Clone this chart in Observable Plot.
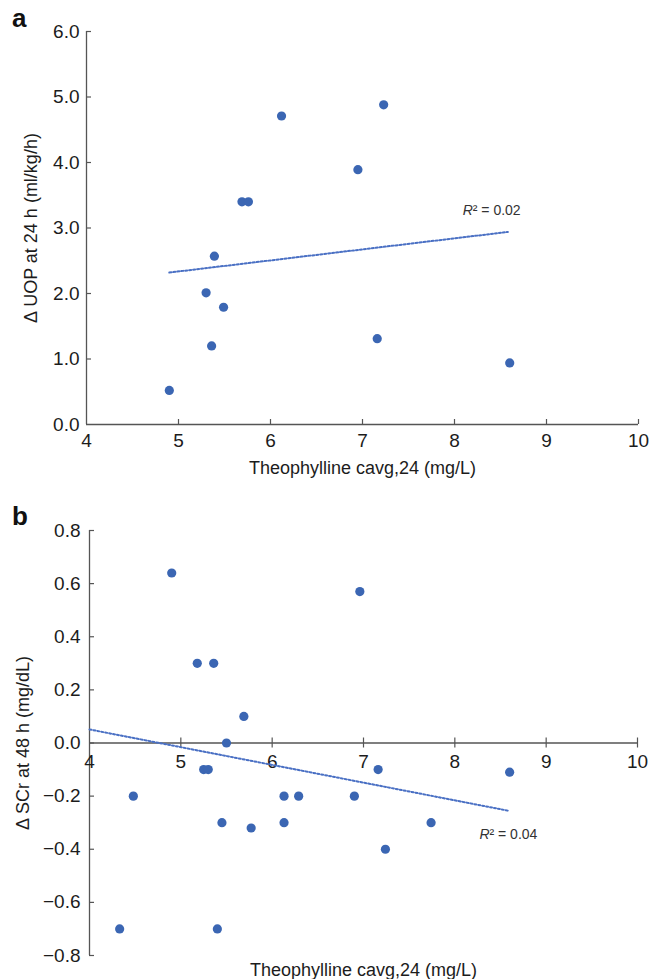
<!DOCTYPE html>
<html>
<head>
<meta charset="utf-8">
<script src="https://cdn.jsdelivr.net/npm/d3@7"></script>
<script src="https://cdn.jsdelivr.net/npm/@observablehq/plot@0.6"></script>
<style>
  html, body { margin: 0; padding: 0; background: #fff; }
  #wrap { position: relative; width: 650px; height: 979px; overflow: hidden; font-family: "Liberation Sans", Arial, sans-serif; }
  .panel { position: absolute; left: 0; }
  .letter { position: absolute; font-weight: bold; font-size: 26px; color: #111; font-family: "Liberation Sans", Arial, sans-serif; line-height: 1; }
</style>
</head>
<body>
<div id="wrap">
  <div class="letter" style="left:12px; top:5px;">a</div>
  <div class="letter" style="left:12px; top:503px;">b</div>
  <div id="pa" class="panel" style="top:0px;"></div>
  <div id="pb" class="panel" style="top:480px;"></div>
</div>
<script>
// ---------- data ----------
const xTicks = [4, 5, 6, 7, 8, 9, 10];
const yTicksA = [0, 1, 2, 3, 4, 5, 6];
const yTicksB = [-0.8, -0.6, -0.4, -0.2, 0, 0.2, 0.4, 0.6, 0.8];

// Panel a: theophylline cavg,24 vs Δ UOP at 24 h
const concA = [4.90, 5.30, 5.39, 5.36, 5.49, 5.69, 5.76, 6.12, 6.95, 7.23, 7.16, 8.60];
const uopA  = [0.52, 2.01, 2.57, 1.20, 1.79, 3.40, 3.40, 4.71, 3.89, 4.88, 1.31, 0.94];

// Panel b: theophylline cavg,24 vs Δ SCr at 48 h
const concB = [4.90, 6.96, 5.18, 5.36, 5.69, 5.50, 5.25, 5.30, 7.16, 8.60, 4.48,
               6.13, 6.29, 6.90, 5.45, 5.77, 6.13, 7.74, 7.24, 4.33, 5.40];
const scrB  = [0.64, 0.57, 0.30, 0.30, 0.10, 0.00, -0.10, -0.10, -0.10, -0.11, -0.20,
               -0.20, -0.20, -0.20, -0.30, -0.32, -0.30, -0.30, -0.40, -0.70, -0.70];

// Trend lines as drawn in the figure
const trendAx = [4.90, 8.58];
const trendAy = [2.32, 2.94];
const trendBx = [4.00, 8.60];
const trendBy = [0.051, -0.256];

const r2A = "0.02";
const r2B = "0.04";

const xTitle = "Theophylline cavg,24 (mg/L)";
const yTitleA = "\u0394 UOP at 24 h (ml/kg/h)";
const yTitleB = "\u0394 SCr at 48 h (mg/dL)";

// ---------- build ----------
const ptsA = concA.map((x, i) => ({x, y: uopA[i]}));
const ptsB = concB.map((x, i) => ({x, y: scrB[i]}));
const trA = trendAx.map((x, i) => ({x, y: trendAy[i]}));
const trB = trendBx.map((x, i) => ({x, y: trendBy[i]}));

const font = '"Liberation Sans", Arial, sans-serif';
const axisColor = "#555";
const textColor = "#1c1c1c";
const dotColor = "#3b66b3";
const lineColor = "#4a70c4";
const tickFs = 19;
const f1 = d3.format(".1f");

const chartA = Plot.plot({
  width: 650, height: 480,
  marginLeft: 86, marginRight: 12, marginTop: 31, marginBottom: 56,
  x: {domain: [4, 10], axis: null},
  y: {domain: [0, 6], axis: null},
  style: {fontFamily: font, fontSize: "19px", color: textColor, background: "transparent", overflow: "visible"},
  marks: [
    Plot.ruleX([4], {stroke: axisColor, strokeWidth: 1.3}),
    Plot.ruleY([0], {stroke: axisColor, strokeWidth: 1.3}),
    Plot.ruleX(xTicks.filter(d => d > 4), {x: d => d, y1: 0, y2: 0, insetTop: -5, stroke: axisColor, strokeWidth: 1.2}),
    Plot.ruleY(yTicksA.filter(d => d > 0), {y: d => d, x1: 4, x2: 4, insetRight: -5, stroke: axisColor, strokeWidth: 1.2}),
    Plot.text(xTicks, {x: d => d, y: 0, text: d => String(d), dy: 16, fill: textColor, fontSize: tickFs}),
    Plot.text(yTicksA, {x: 4, y: d => d, text: d => f1(d), dx: -7, textAnchor: "end", fill: textColor, fontSize: tickFs}),
    Plot.line(trA, {x: "x", y: "y", stroke: lineColor, strokeWidth: 2, strokeDasharray: "2,2"}),
    Plot.dot(ptsA, {x: "x", y: "y", r: 4.6, fill: dotColor, stroke: "none"}),
    Plot.text(["R"], {x: 8.09, y: 3.27, text: d => d, textAnchor: "start", fontStyle: "italic", fontSize: 14, fill: "#333"}),
    Plot.text(["\u00B2 = " + r2A], {x: 8.09, y: 3.27, text: d => d, dx: 10, textAnchor: "start", fontSize: 14, fill: "#333"}),
    Plot.text([yTitleA], {frameAnchor: "left", text: d => d, rotate: -90, dx: -55, textAnchor: "middle", lineAnchor: "middle", fontSize: 18, fill: textColor}),
    Plot.text([xTitle], {frameAnchor: "bottom", text: d => d, dy: 44, textAnchor: "middle", lineAnchor: "middle", fontSize: 18, fill: textColor})
  ]
});
document.getElementById("pa").appendChild(chartA);

const chartB = Plot.plot({
  width: 650, height: 499,
  marginLeft: 89, marginRight: 13, marginTop: 50, marginBottom: 24,
  x: {domain: [4, 10], axis: null},
  y: {domain: [-0.8, 0.8], axis: null},
  style: {fontFamily: font, fontSize: "19px", color: textColor, background: "transparent", overflow: "visible"},
  marks: [
    Plot.ruleX([4], {stroke: axisColor, strokeWidth: 1.3}),
    Plot.ruleY([0], {stroke: axisColor, strokeWidth: 1.3}),
    Plot.ruleX(xTicks.filter(d => d > 4), {x: d => d, y1: 0, y2: 0, insetTop: -5, insetBottom: -5, stroke: axisColor, strokeWidth: 1.2}),
    Plot.ruleY(yTicksB, {y: d => d, x1: 4, x2: 4, insetRight: -5, stroke: axisColor, strokeWidth: 1.2}),
    Plot.text(xTicks, {x: d => d, y: 0, text: d => String(d), dy: 19, fill: textColor, fontSize: tickFs}),
    Plot.text(yTicksB, {x: 4, y: d => d, text: d => f1(d), dx: -9, textAnchor: "end", fill: textColor, fontSize: tickFs}),
    Plot.line(trB, {x: "x", y: "y", stroke: lineColor, strokeWidth: 2, strokeDasharray: "2,2"}),
    Plot.dot(ptsB, {x: "x", y: "y", r: 4.6, fill: dotColor, stroke: "none"}),
    Plot.text(["R"], {x: 8.27, y: -0.343, text: d => d, textAnchor: "start", fontStyle: "italic", fontSize: 14, fill: "#333"}),
    Plot.text(["\u00B2 = " + r2B], {x: 8.27, y: -0.343, text: d => d, dx: 10, textAnchor: "start", fontSize: 14, fill: "#333"}),
    Plot.text([yTitleB], {frameAnchor: "left", text: d => d, rotate: -90, dx: -66, textAnchor: "middle", lineAnchor: "middle", fontSize: 18, fill: textColor}),
    Plot.text([xTitle], {frameAnchor: "bottom", text: d => d, dy: 15, textAnchor: "middle", lineAnchor: "middle", fontSize: 18, fill: textColor})
  ]
});
document.getElementById("pb").appendChild(chartB);
</script>
</body>
</html>
